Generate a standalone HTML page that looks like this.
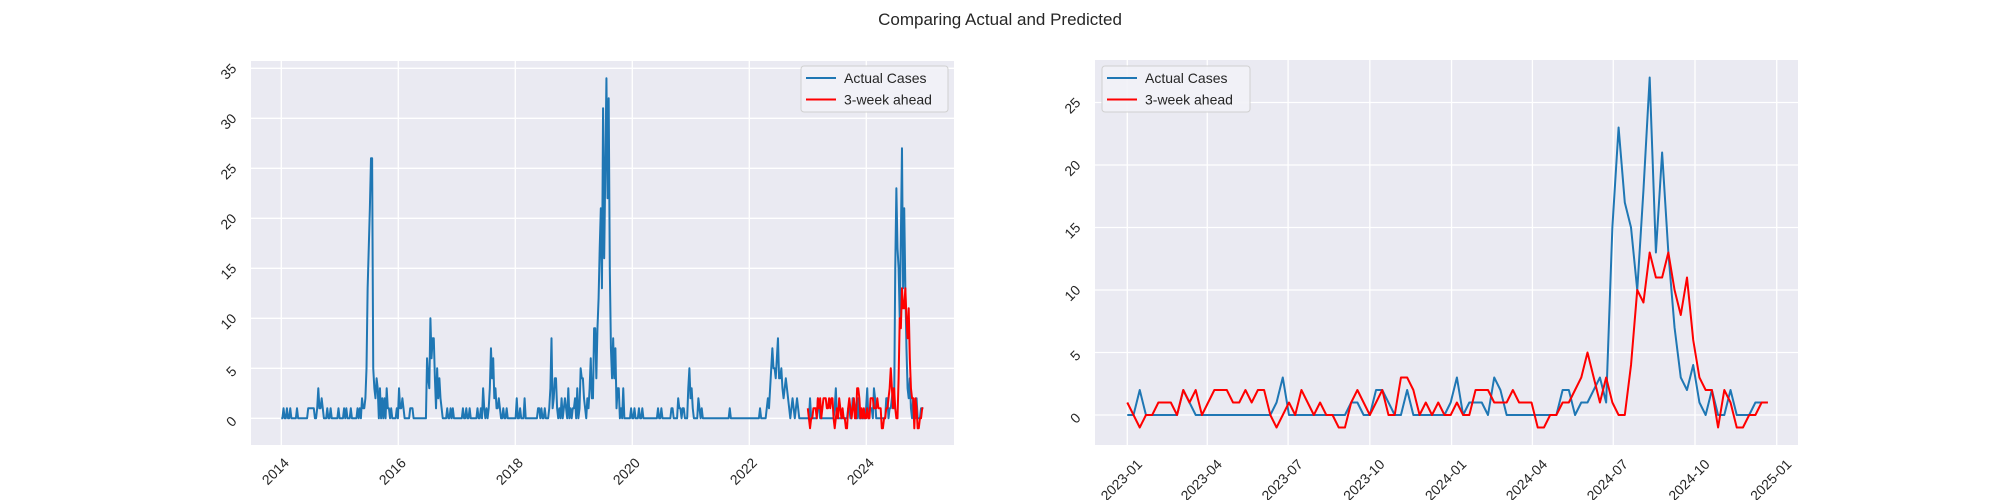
<!DOCTYPE html>
<html><head><meta charset="utf-8"><style>
html,body{margin:0;padding:0;background:#fff;}
svg{display:block;font-family:"Liberation Sans","DejaVu Sans",sans-serif;}
</style></head><body>
<svg id="fig" width="2000" height="500" viewBox="0 0 2000 500" xmlns="http://www.w3.org/2000/svg">
<text x="1000" y="25" text-anchor="middle" font-size="17" fill="#262626">Comparing Actual and Predicted</text>
</svg>
<script>
// ---- data ----
const histActual = [
0,0,1,0,0,1,0,0,1,0,0,0,0,0,1,0,0,0,0,0,
0,0,0,0,1,1,1,1,1,1,0,0,1,3,1,1,2,1,0,0,
0,1,0,0,1,0,0,0,0,0,0,1,0,0,0,0,1,0,1,0,
0,0,1,0,0,0,0,0,1,0,1,0,2,1,1,2,5,13,17,21,
26,26,5,3,2,4,3,0,3,0,2,0,2,0,3,1,1,0,1,0,
0,0,0,1,0,3,1,1,2,1,0,0,0,0,0,1,1,1,0,0,
0,0,0,0,0,0,0,0,0,0,6,4,3,10,6,8,8,4,1,5,
2,4,2,1,0,0,0,0,1,0,0,1,0,1,0,0,0,0,0,0,
0,0,1,0,0,1,0,0,1,0,0,0,0,0,0,1,0,0,1,0,
3,1,0,1,0,1,3,7,4,6,2,3,1,1,2,1,0,0,1,0,
0,1,0,0,0,0,0,0,0,0,2,0,0,1,0,0,0,2,0,0,
0,0,0,0,0,0,0,0,0,1,1,0,1,0,0,1,0,0,0,1,
3,8,1,2,4,4,1,0,1,0,2,0,1,2,1,0,3,0,1,0,
1,1,2,0,3,0,1,5,4,4,2,1,0,2,1,3,6,2,2,9,
9,4,9,12,17,21,13,31,16,25,34,22,32,15,7,4,8,4,7,1,
3,3,0,1,0,3,0,0,0,0,0,0,1,0,0,1,0,0,0,1,
0,0,1,0,0,0,0,0,0,0,0,0,0,0,0,0,1,0,0,1,
0,0,0,0,0,0,0,0,1,1,0,0,0,0,2,1,1,0,1,1,
0,0,0,3,5,2,3,1,0,0,0,0,2,1,0,1,0,0,0,0,
0,0,0,0,0,0,0,0,0,0,0,0,0,0,0,0,0,0,0,0,
1,0,0,0,0,0,0,0,0,0,0,0,0,0,0,0,0,0,0,0,
0,0,0,0,0,0,0,1,0,0,0,0,0,1,2,1,3,5,7,5,
5,4,6,8,4,4,5,3,2,3,4,3,2,1,0,1,2,1,0,1,
2,1,0,0,0,0,0,0,0];
const recentActual = [
0,0,2,0,0,0,0,0,0,2,1,0,0,0,0,0,0,0,0,0,
0,0,0,0,1,3,0,0,0,0,0,0,0,0,0,0,1,1,0,0,
2,2,1,0,0,2,0,0,0,0,0,0,1,3,0,1,1,1,0,3,
2,0,0,0,0,0,0,0,0,0,2,2,0,1,1,2,3,1,15,23,
17,15,10,18,27,13,21,13,7,3,2,4,1,0,2,0,0,2,0,0,
0,1,1,1];
const recentPred = [
1,0,-1,0,0,1,1,1,0,2,1,2,0,1,2,2,2,1,1,2,
1,2,2,0,-1,0,1,0,2,1,0,1,0,0,-1,-1,1,2,1,0,
1,2,0,0,3,3,2,0,1,0,1,0,0,1,0,0,2,2,2,1,
1,1,2,1,1,1,-1,-1,0,0,1,1,2,3,5,3,1,3,1,0,
0,4,10,9,13,11,11,13,10,8,11,6,3,2,2,-1,2,1,-1,-1,
0,0,1,1];
const leftXTicks = [2014,2016,2018,2020,2022,2024];
const leftYTicks = [0,5,10,15,20,25,30,35];
const rightXTickDays = [0,90,181,273,365,456,547,639,731];
const rightXTickLabels = ["2023-01","2023-04","2023-07","2023-10","2024-01","2024-04","2024-07","2024-10","2025-01"];
const rightYTicks = [0,5,10,15,20,25];

// ---- drawing ----
const NS = "http://www.w3.org/2000/svg";
const svg = document.getElementById("fig");
function mk(tag, attrs, parent){
  const e = document.createElementNS(NS, tag);
  for (const k in attrs) e.setAttribute(k, attrs[k]);
  (parent||svg).appendChild(e);
  return e;
}
const TXT = "#262626";
function rotLabel(g, cx, cy, str, name){
  const t = mk("text", {x:cx, y:cy, "text-anchor":"middle", "dominant-baseline":"central", "font-size":14, fill:TXT, transform:`rotate(-45 ${cx} ${cy})`}, g);
  
  
  t.textContent = str;
}
function halfDiag(str){ return (str.length*8 + 14)*0.707/2; }

function drawAxes(id, L, R, T, B, xs, ys, xTicks, xLabels, yTicks){
  const g = mk("g", {});
  
  
  const bg = mk("rect", {x:L, y:T, width:R-L, height:B-T, fill:"#eaeaf2"}, g);
  
  
  xTicks.forEach((v,i)=>{
    const x = xs(v);
    const gl = mk("line", {x1:x, x2:x, y1:T, y2:B, stroke:"#fff", "stroke-width":1.3}, g);
    
    
    const lab = xLabels[i];
    const hd = halfDiag(lab);
    rotLabel(g, x-6, B+10+hd, lab, 'x-tick-label');
  });
  yTicks.forEach(v=>{
    const y = ys(v);
    const gl = mk("line", {x1:L, x2:R, y1:y, y2:y, stroke:"#fff", "stroke-width":1.3}, g);
    
    
    const lab = String(v);
    const hd = halfDiag(lab);
    rotLabel(g, L-12-hd, y+3, lab, 'y-tick-label');
  });
  return g;
}
function drawLine(g, pts, color, name){
  const p = mk("polyline", {points: pts.map(p=>p[0].toFixed(2)+","+p[1].toFixed(2)).join(" "), fill:"none", stroke:color, "stroke-width":2, "stroke-linejoin":"round"}, g);
  
  
}
function legend(x, y, w){
  const g = mk("g", {});
  
  
  mk("rect", {x:x, y:y, width:w, height:46, rx:3, fill:"#f2f2f7", "fill-opacity":0.9, stroke:"#d0d0d0"}, g);
  const items = [["Actual Cases","#1f77b4"],["3-week ahead","#ff0000"]];
  items.forEach((it,i)=>{
    const yy = y + 12 + i*21.5;
    const e = mk("g", {}, g);
    
    
    mk("line", {x1:x+5, x2:x+35, y1:yy, y2:yy, stroke:it[1], "stroke-width":2}, e);
    const t = mk("text", {x:x+43, y:yy+5, "font-size":14, fill:TXT}, e);
    t.textContent = it[0];
  });
}

// Left chart
const LL=251, LR=954, LT=61, LB=445;
const lxs = yr => 281.3 + 58.5*(yr-2014);
const lys = v => 418.3 - 10*v;
const lg = drawAxes('left-chart', LL, LR, LT, LB, lxs, lys, leftXTicks, leftXTicks.map(String), leftYTicks);
const leftActualPts = [];
histActual.forEach((v,k)=>leftActualPts.push([lxs(2014 + k*7/365.25), lys(v)]));
recentActual.forEach((v,i)=>leftActualPts.push([lxs(2023 + i*7/365.25), lys(v)]));
drawLine(lg, leftActualPts, "#1f77b4", 'left-actual-line');
drawLine(lg, recentPred.map((v,i)=>[lxs(2023 + i*7/365.25), lys(v)]), "#ff0000", 'left-predicted-line');
legend(801, 66, 147);

// Right chart
const RL=1095, RR=1798, RT=60, RB=445;
const rxs = d => 1127.3 + 0.8884*d;
const rys = v => 415 - 12.5*v;
const rg = drawAxes('right-chart', RL, RR, RT, RB, rxs, rys, rightXTickDays, rightXTickLabels, rightYTicks);
drawLine(rg, recentActual.map((v,i)=>[rxs(i*7), rys(v)]), "#1f77b4", 'right-actual-line');
drawLine(rg, recentPred.map((v,i)=>[rxs(i*7), rys(v)]), "#ff0000", 'right-predicted-line');
legend(1102, 66, 148);
</script>
</body></html>
